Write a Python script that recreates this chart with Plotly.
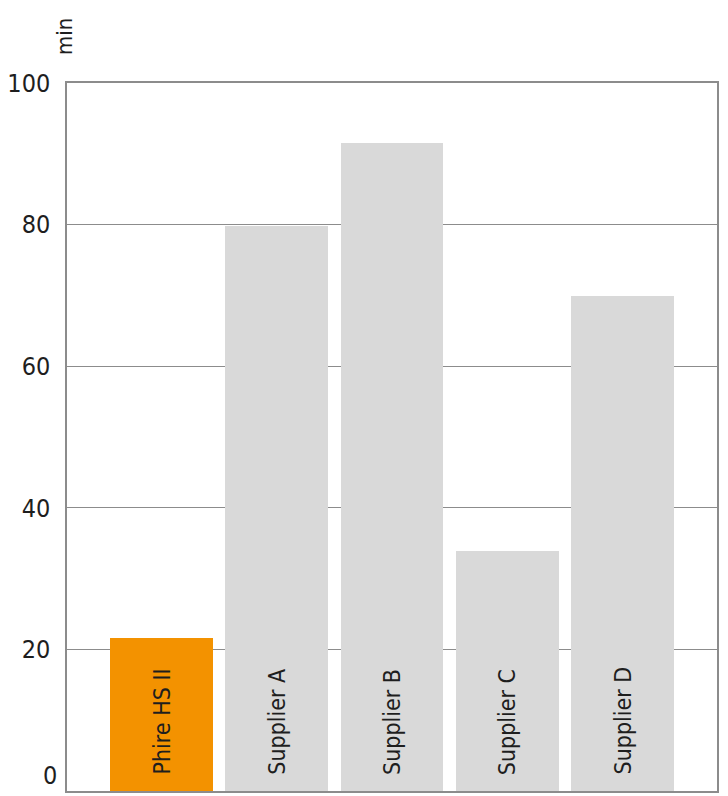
import plotly.graph_objects as go

categories = ["Phire HS II", "Supplier A", "Supplier B", "Supplier C", "Supplier D"]
values = [21.6, 79.8, 91.5, 33.9, 69.9]
colors = ["#F39200", "#D9D9D9", "#D9D9D9", "#D9D9D9", "#D9D9D9"]
tick_vals = [0, 20, 40, 60, 80, 100]
unit_label = "min"

FONT = "DejaVu Sans Condensed, DejaVu Sans, sans-serif"


def font(size, color="#1E1E1E"):
    f = dict(family=FONT, size=size, color=color)
    try:
        go.layout.Font(stretch="condensed")
        f["stretch"] = "condensed"
    except Exception:
        pass
    return f


fig = go.Figure()
fig.add_trace(go.Bar(
    x=categories, y=values, marker=dict(color=colors, line=dict(width=0)),
    width=0.89, hoverinfo="skip",
))

for c in categories:
    fig.add_annotation(
        x=c, y=0, xref="x", yref="y", text=c, showarrow=False,
        textangle=-90, xanchor="center", yanchor="bottom", yshift=14,
        font=font(23),
    )

# bottom tick label (sits just above the baseline)
fig.add_annotation(
    x=0, y=tick_vals[0], xref="paper", yref="y", text=str(tick_vals[0]),
    showarrow=False, xanchor="right", yanchor="bottom", xshift=-8, yshift=-1,
    font=font(25),
)

fig.add_annotation(
    x=0, y=1, xref="paper", yref="paper", text=unit_label, showarrow=False,
    textangle=-90, xanchor="right", yanchor="bottom", xshift=12, yshift=26,
    font=font(22),
)

fig.update_layout(
    width=728, height=796,
    margin=dict(l=67, r=11, t=83, b=5),
    plot_bgcolor="white", paper_bgcolor="white",
    showlegend=False, bargap=0,
    font=font(24),
    xaxis=dict(
        range=[-0.82, 4.82], showticklabels=False, ticks="",
        showgrid=False, zeroline=False,
        showline=True, linecolor="#8C8C8C", linewidth=1.5, mirror=True,
    ),
    yaxis=dict(
        range=[0, 100], tickvals=tick_vals[1:], ticks="", ticklabelstandoff=10,
        showgrid=True, gridcolor="#8C8C8C", gridwidth=1.2, zeroline=False,
        showline=True, linecolor="#8C8C8C", linewidth=1.5, mirror=True,
        tickfont=font(25),
    ),
)

fig.write_html(
    "out.html",
    config={"displayModeBar": False},
    post_script="document.body.style.margin='0';document.body.style.overflow='hidden';",
)
